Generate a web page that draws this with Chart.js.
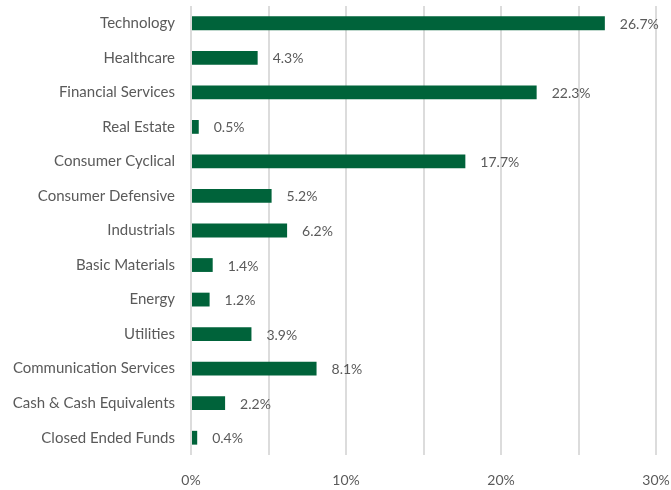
<!DOCTYPE html>
<html>
<head>
<meta charset="utf-8">
<script src="https://cdn.jsdelivr.net/npm/chart.js@4"></script>
<style>
  html, body { margin: 0; padding: 0; background: #fff; }
  #wrap { width: 671px; height: 490px; position: relative; }
</style>
</head>
<body>
<div id="wrap"><canvas id="sectorChart"></canvas></div>
<script>
const sectors = [
  "Technology", "Healthcare", "Financial Services", "Real Estate",
  "Consumer Cyclical", "Consumer Defensive", "Industrials", "Basic Materials",
  "Energy", "Utilities", "Communication Services", "Cash & Cash Equivalents",
  "Closed Ended Funds"
];
const weights = [26.7, 4.3, 22.3, 0.5, 17.7, 5.2, 6.2, 1.4, 1.2, 3.9, 8.1, 2.2, 0.4];

const textColor = "#5a5a5a";
const fontFamily = "Lato, 'Open Sans', sans-serif";

// draw the % value just past the end of each bar
const valueLabels = {
  id: "valueLabels",
  afterDatasetsDraw(chart) {
    const c = chart.ctx;
    const meta = chart.getDatasetMeta(0);
    c.save();
    c.font = "14px " + fontFamily;
    c.fillStyle = textColor;
    c.textAlign = "left";
    c.textBaseline = "middle";
    meta.data.forEach((bar, i) => {
      c.fillText(weights[i].toFixed(1) + "%", bar.x + 15, bar.y + 1);
    });
    c.restore();
  }
};

new Chart(document.getElementById("sectorChart"), {
  type: "bar",
  data: {
    labels: sectors,
    datasets: [{
      data: weights,
      backgroundColor: "#00633a",
      barPercentage: 0.4,
      categoryPercentage: 1.0
    }]
  },
  options: {
    indexAxis: "y",
    responsive: true,
    maintainAspectRatio: false,
    animation: false,
    layout: { padding: { top: 6, right: 15, left: 0, bottom: 0 } },
    plugins: {
      legend: { display: false },
      tooltip: { enabled: false }
    },
    scales: {
      x: {
        min: 0,
        max: 30,
        afterFit: s => {
          s.height = 35;
          s.paddingLeft = 0;
          s.paddingRight = 0;
        },
        ticks: {
          stepSize: 5,
          padding: 17,
          color: textColor,
          font: { size: 14, family: fontFamily },
          callback: v => (v % 10 === 0 ? v + "%" : "")
        },
        grid: { color: "#dcdcdc", lineWidth: 2, drawTicks: false },
        border: { display: false }
      },
      y: {
        afterFit: s => {
          s.width = 191;
          s.paddingTop = 0;
          s.paddingBottom = 0;
        },
        ticks: {
          padding: 16,
          color: textColor,
          font: { size: 15, family: fontFamily },
          autoSkip: false
        },
        grid: { display: false, drawTicks: false },
        border: { display: false }
      }
    }
  },
  plugins: [valueLabels]
});
</script>
</body>
</html>
